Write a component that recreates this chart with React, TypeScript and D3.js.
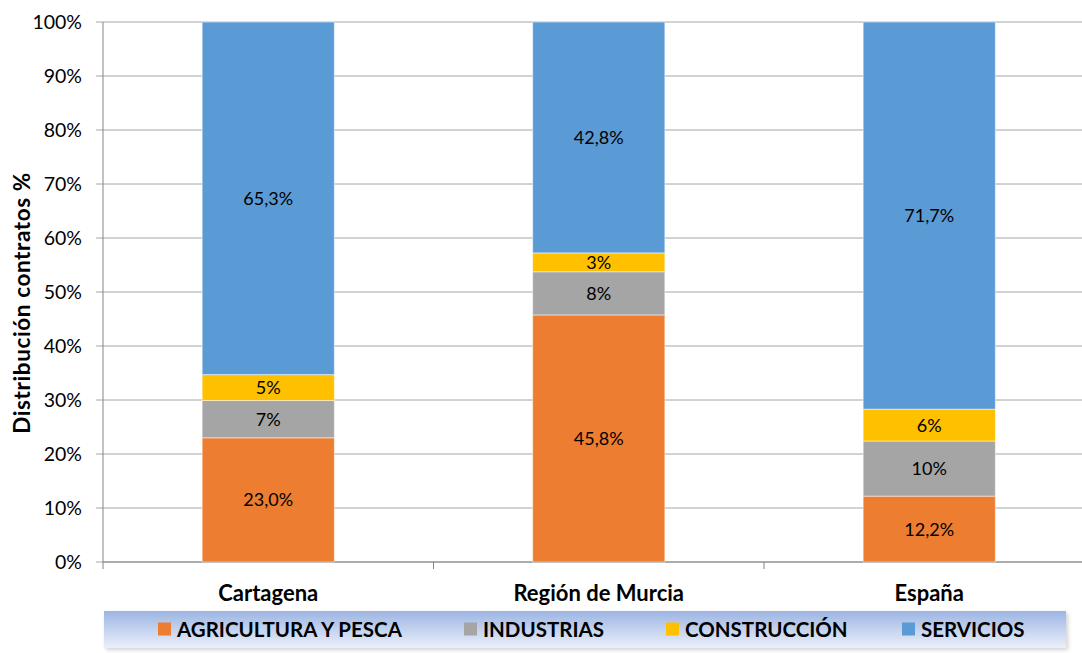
import React from 'react';
import * as d3 from 'd3';

// data
const regions = ['Cartagena', 'Región de Murcia', 'España'];
const sectors = ['AGRICULTURA Y PESCA', 'INDUSTRIAS', 'CONSTRUCCIÓN', 'SERVICIOS'];
const agricultura = [23.0, 45.8, 12.2];
const industrias = [6.9, 8.0, 10.2];
const construccion = [4.8, 3.5, 5.9];
const servicios = [65.3, 42.8, 71.7];
const agriculturaLabels = ['23,0%', '45,8%', '12,2%'];
const industriasLabels = ['7%', '8%', '10%'];
const construccionLabels = ['5%', '3%', '6%'];
const serviciosLabels = ['65,3%', '42,8%', '71,7%'];
const yTicks = [0, 10, 20, 30, 40, 50, 60, 70, 80, 90, 100];
const colors = ['#ED7D31', '#A5A5A5', '#FFC000', '#5B9BD5'];

const width = 1082;
const height = 653;
const margin = { top: 22, right: -12.5, bottom: 91, left: 103 };
const font = 'Lato, "Open Sans", sans-serif';

const App = () => {
    const seriesValues = [agricultura, industrias, construccion, servicios];
    const seriesLabels = [agriculturaLabels, industriasLabels, construccionLabels, serviciosLabels];

    const table = regions.map((r, i) => {
        const row: any = { region: r };
        sectors.forEach((s, j) => { row[s] = seriesValues[j][i]; });
        return row;
    });
    const stacked = d3.stack().keys(sectors).offset(d3.stackOffsetExpand)(table);

    const xScale = d3.scaleBand()
        .domain(regions)
        .range([margin.left, width - margin.right])
        .paddingInner(0.6)
        .paddingOuter(0.3);

    const yScale = d3.scaleLinear()
        .domain([0, 1])
        .range([height - margin.bottom, margin.top]);

    const y0 = height - margin.bottom;
    const step = xScale.step();
    const legendX = [158, 464, 666, 902];

    return (
        <svg width={width} height={height} style={{ position: 'absolute', left: 0, top: 0, background: '#fff' }}>
            <defs>
                <linearGradient id="legendGrad" x1="0" y1="0" x2="0" y2="1">
                    <stop offset="0%" stopColor="#9DB5E3" />
                    <stop offset="100%" stopColor="#EAF0FA" />
                </linearGradient>
                <filter id="shadow" x="-5%" y="-30%" width="110%" height="160%">
                    <feGaussianBlur stdDeviation="2" />
                </filter>
            </defs>

            {/* gridlines */}
            {yTicks.map(t => (
                <g key={t}>
                    <line x1={margin.left - 7} x2={width} y1={yScale(t / 100)} y2={yScale(t / 100)}
                        stroke="#A6A6A6" strokeWidth={1} />
                    <text x={82} y={yScale(t / 100)} dy="0.36em" textAnchor="end"
                        fontFamily={font} fontSize={19.5} fill="#000">{t}%</text>
                </g>
            ))}

            {/* axes */}
            <line x1={margin.left} x2={margin.left} y1={margin.top} y2={y0 + 7} stroke="#868686" />
            <line x1={margin.left} x2={width} y1={y0} y2={y0} stroke="#868686" />
            {regions.map((r, i) => (
                <line key={r} x1={margin.left + step * (i + 1)} x2={margin.left + step * (i + 1)}
                    y1={y0} y2={y0 + 7} stroke="#868686" />
            ))}

            {/* bars */}
            {stacked.map((s, j) => (
                <g key={s.key} fill={colors[j]}>
                    {s.map((d, i) => (
                        <rect key={i} x={xScale(regions[i])} width={xScale.bandwidth()}
                            y={yScale(d[1])} height={yScale(d[0]) - yScale(d[1])}
                            stroke="#fff" strokeOpacity={0.5} strokeWidth={1} />
                    ))}
                </g>
            ))}
            {stacked.map((s, j) => (
                <g key={s.key + 'l'}>
                    {s.map((d, i) => (
                        <text key={i} x={xScale(regions[i])! + xScale.bandwidth() / 2}
                            y={(yScale(d[0]) + yScale(d[1])) / 2} dy="0.36em" textAnchor="middle"
                            fontFamily={font} fontSize={18} fill="#000">{seriesLabels[j][i]}</text>
                    ))}
                </g>
            ))}

            {/* category labels */}
            {regions.map(r => (
                <text key={r} x={xScale(r)! + xScale.bandwidth() / 2} y={593} dy="0.36em"
                    textAnchor="middle" fontFamily={font} fontWeight="bold" fontSize={22} fill="#000">{r}</text>
            ))}

            {/* y axis title */}
            <text transform={`translate(22,${(margin.top + y0) / 2 + 11}) rotate(-90)`} dy="0.36em"
                textAnchor="middle" fontFamily={font} fontWeight="bold" fontSize={22.5}
                letterSpacing={0.6} fill="#000">
                Distribución contratos %
            </text>

            {/* legend */}
            <rect x={106} y={613} width={962} height={37} fill="#000" opacity={0.18} filter="url(#shadow)" />
            <rect x={104} y={611} width={962} height={37} fill="url(#legendGrad)" />
            {sectors.map((s, j) => (
                <g key={s} transform={`translate(${legendX[j]},629.5)`}>
                    <rect x={0} y={-7} width={13} height={13} fill={colors[j]} />
                    <text x={19} y={0} dy="0.36em" fontFamily={font} fontWeight="bold"
                        fontSize={20.5} fill="#000">{s}</text>
                </g>
            ))}
        </svg>
    );
};

export default App;
